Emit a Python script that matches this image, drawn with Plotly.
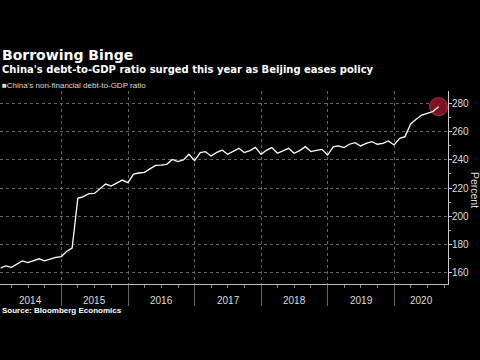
import plotly.graph_objects as go
import pandas as pd

# Monthly data, Jan 2014 - Aug 2020 (month-end)
dates = pd.date_range("2014-01-31", "2020-08-31", freq="ME")
values = [
    163.5, 165.0, 164.0, 166.0, 168.5, 167.3, 168.5, 170.0, 168.5, 170.0, 171.0, 171.6,
    175.5, 177.5, 212.7, 213.9, 216.0, 216.2, 219.8, 222.8, 221.4, 223.3, 225.6, 223.8,
    229.8, 230.6, 231.0, 233.5, 236.0, 236.2, 236.7, 240.2, 238.6, 239.8, 243.8, 239.3,
    245.0, 245.7, 242.6, 245.0, 246.8, 243.8, 246.1, 248.0, 245.0, 246.4, 248.7, 243.8,
    246.8, 248.5, 244.5, 246.4, 248.0, 244.5, 246.4, 249.2, 245.7, 246.5, 247.3, 243.3,
    249.0, 249.7, 248.5, 250.9, 252.0, 249.7, 251.5, 252.7, 250.9, 251.5, 253.2, 250.4,
    255.1, 256.3, 265.2, 268.5, 271.5, 272.7, 274.0, 277.4,
]
year_labels = ["2014", "2015", "2016", "2017", "2018", "2019", "2020"]
y_ticks = [160, 180, 200, 220, 240, 260, 280]

x_range = [pd.Timestamp("2014-01-28"), pd.Timestamp("2020-10-22")]
y_range = [152.2, 288.5]

FONT = "Liberation Sans Narrow, Liberation Sans, Arial, sans-serif"
TFONT = "DejaVu Sans, sans-serif"

fig = go.Figure()
# highlight circle on last point
fig.add_trace(go.Scatter(
    x=[dates[-1]], y=[values[-1]], mode="markers",
    marker=dict(size=18, color="rgba(140,20,40,0.9)", line=dict(color="rgba(190,50,70,0.9)", width=1)),
    hoverinfo="skip", showlegend=False,
))
fig.add_trace(go.Scatter(
    x=dates, y=values, mode="lines",
    line=dict(color="white", width=1.3), showlegend=False,
))

year_starts = [pd.Timestamp(f"{y}-01-01") for y in year_labels]
major_ticks = [d for d in year_starts if x_range[0] < d < x_range[1]]

fig.update_xaxes(
    range=x_range, type="date",
    tickvals=major_ticks, showticklabels=False,
    ticks="outside", ticklen=21, tickcolor="#666", tickwidth=1,
    showgrid=True, gridcolor="#666", griddash="dot", gridwidth=1,
    showline=True, linecolor="#bbb", linewidth=1,
    minor=dict(dtick="M3", tick0="2014-01-01", ticks="outside", ticklen=3,
               tickcolor="#888", showgrid=False),
    zeroline=False, fixedrange=True,
)
fig.update_yaxes(
    range=y_range, side="right", tickvals=y_ticks,
    ticks="outside", ticklen=3, tickcolor="#ccc",
    showline=True, linecolor="#ccc", linewidth=1,
    showgrid=True, gridcolor="#666", griddash="dot", gridwidth=1,
    tickfont=dict(family=FONT, size=10, color="#ddd"),
    ticklabelstandoff=-2,
    minor=dict(dtick=10, tick0=0, ticks="outside", ticklen=2, tickcolor="#999", showgrid=False),
    zeroline=False, fixedrange=True,
)

annotations = []
# year labels centred in the visible portion of each year
for y in year_labels:
    s = max(pd.Timestamp(f"{y}-01-01"), x_range[0])
    e = min(pd.Timestamp(f"{int(y)+1}-01-01"), x_range[1])
    mid = s + (e - s) / 2
    annotations.append(dict(x=mid, y=-0.083, xref="x", yref="paper", text=y,
                            showarrow=False, font=dict(family=FONT, size=10, color="#ddd"),
                            xanchor="center", yanchor="middle"))

annotations += [
    dict(x=0, y=1.184, xref="paper", yref="paper", text="<b>Borrowing Binge</b>",
         showarrow=False, xanchor="left", yanchor="middle",
         font=dict(family=TFONT, size=14, color="white")),
    dict(x=0, y=1.111, xref="paper", yref="paper",
         text="<b>China's debt-to-GDP ratio surged this year as Beijing eases policy</b>",
         showarrow=False, xanchor="left", yanchor="middle",
         font=dict(family=TFONT, size=10, color="white")),
    dict(x=0, y=1.026, xref="paper", yref="paper",
         text="■China's non-financial debt-to-GDP ratio",
         showarrow=False, xanchor="left", yanchor="middle",
         font=dict(family=FONT, size=8, color="#ddd")),
    dict(x=0, y=-0.135, xref="paper", yref="paper", text="<b>Source: Bloomberg Economics</b>",
         showarrow=False, xanchor="left", yanchor="middle",
         font=dict(family="Liberation Sans, Arial, sans-serif", size=8, color="white")),
    dict(x=1.0605, y=0.487, xref="paper", yref="paper", text="Percent", textangle=90,
         showarrow=False, xanchor="center", yanchor="middle",
         font=dict(family=FONT, size=10.5, color="#ddd")),
]

fig.update_layout(
    width=480, height=360,
    margin=dict(l=0, r=32, t=91, b=76),
    paper_bgcolor="black", plot_bgcolor="black",
    annotations=annotations, showlegend=False,
)
fig.write_html("out.html", config={"displayModeBar": False},
               post_script="document.body.style.margin='0';document.body.style.background='black';")
